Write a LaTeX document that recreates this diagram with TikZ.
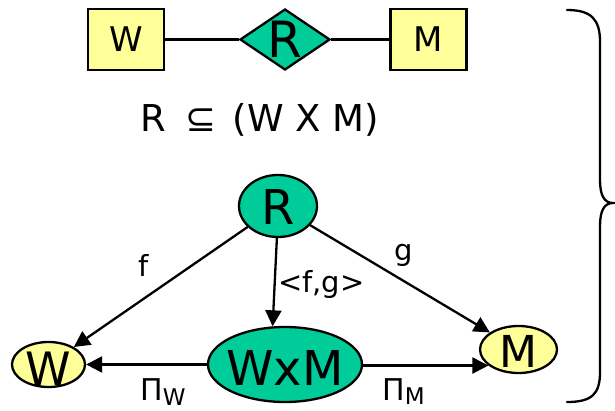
\documentclass[tikz,border=0pt]{standalone}
\usepackage{fontspec}
\setmainfont{DejaVu Sans}
\usetikzlibrary{shapes.geometric,arrows.meta}
\definecolor{erGreen}{HTML}{00CC99}
\definecolor{erYellow}{HTML}{FFFF99}
\newcommand{\fs}[1]{\fontsize{#1}{#1}\selectfont}
\tikzset{
  outline/.style={draw, line width=2.3pt},
  entitybox/.style={outline, fill=erYellow, minimum width=76pt, minimum height=61pt, inner sep=0pt, font=\fs{34}},
  relbox/.style={outline, diamond, fill=erGreen, minimum width=90pt, minimum height=61pt, inner sep=-30pt, font=\fs{50}},
  objnode/.style={outline, ellipse, inner sep=-30pt, text depth=0pt},
  link/.style={line width=2.3pt},
  arr/.style={line width=2.3pt, -{Triangle[length=16pt,width=16pt]}},
  lbl/.style={inner sep=0pt, anchor=base, font=\fs{29}},
  pilbl/.style={inner sep=0pt, anchor=base west, font=\fs{30}},
}
\begin{document}
\begin{tikzpicture}[x=1pt,y=-1pt]
\useasboundingbox (0,0) rectangle (615,411);

% entity-relationship diagram
\node[entitybox] (we) at (126,39.5) {W};
\node[relbox, text height=36pt] (rel) at (285,39.5) {R};
\node[entitybox] (me) at (428.5,39.5) {M};
\draw[link] (we) -- (rel);
\draw[link] (rel) -- (me);

% relation as a subset of the product
\node[inner sep=0pt, anchor=base west, font=\fs{37}] (sub) at (140,132) {R\hspace{20pt}⊆\hspace{4pt} (W X M)};

% categorical view
\node[objnode, fill=erGreen, minimum width=78pt, minimum height=62pt, font=\fs{48}, text height=38pt] (r) at (278,206) {R};
\node[objnode, fill=erYellow, minimum width=73pt, minimum height=45pt, font=\fs{46}, text height=41pt] (w) at (48.5,364.5) {W};
\node[objnode, fill=erGreen, minimum width=154pt, minimum height=75pt, font=\fs{48}, text height=41pt] (wxm) at (285,364.5) {WxM};
\node[objnode, fill=erYellow, minimum width=77pt, minimum height=47pt, font=\fs{44}, text height=35pt] (m) at (518.5,349.5) {M};

\draw[arr] (r) -- (w);
\draw[arr] (r.268) -- (wxm.108);
\draw[arr] (r) -- (m);
\draw[arr] (wxm) -- (w);
\draw[arr] (wxm.east |- m.208) -- (m.208);

\node[lbl] (lf) at (144,277) {f};
\node[lbl] (lg) at (403.5,261) {g};
\node[lbl, anchor=base west] (lfg) at (278,293) {<f,g>};
\node[pilbl] (lpw) at (140,400) {Π\raisebox{-5pt}{\fs{23}W}};
\node[pilbl] (lpm) at (382,400) {Π\raisebox{-4pt}{\fs{23}M}};

% brace spanning both views
\draw[link, line cap=round]
  (567,10) .. controls (592,10) and (600,20) .. (600,42)
  -- (600,180) .. controls (600,195) and (604,203) .. (613,203)
  .. controls (604,203) and (600,211) .. (600,226)
  -- (600,372) .. controls (600,394) and (592,402) .. (567,402);
\end{tikzpicture}
\end{document}
